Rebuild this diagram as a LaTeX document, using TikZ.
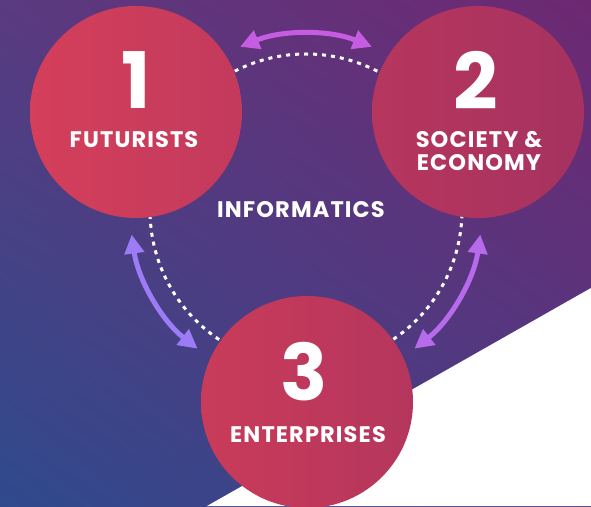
\documentclass[tikz,border=0pt]{standalone}
\usepackage{fontspec}
\setmainfont{Poppins}
\newfontfamily\tagfont{Poppins}[LetterSpace=5]
\usetikzlibrary{arrows.meta, positioning, calc, shadings}
\definecolor{bgtl}{HTML}{5A3A80}
\definecolor{bgtr}{HTML}{6E2872}
\definecolor{bgbl}{HTML}{2F4A8C}
\definecolor{bgbr}{HTML}{4F3A82}
\definecolor{redA}{HTML}{D43F5A}
\definecolor{redB}{HTML}{C33A5D}
\definecolor{redC}{HTML}{B6365E}
\definecolor{redD}{HTML}{A6325F}
\definecolor{redE}{HTML}{C93B5A}
\definecolor{redF}{HTML}{B5365D}
\definecolor{arrowtop}{HTML}{C65CE2}
\definecolor{arrowleft}{HTML}{9B7CF6}
\definecolor{arrowright}{HTML}{B86AEC}
\begin{document}
\begin{tikzpicture}[
        x=1pt, y=1pt,
        bubble/.style={circle, minimum size=212pt, inner sep=0pt},
        num/.style={text=white, inner sep=0pt, font=\fontsize{78}{78}\selectfont\bfseries},
        tag/.style={text=white, inner sep=0pt, align=center, font=\tagfont\fontsize{22.5}{23}\selectfont\bfseries},
        ring/.style={white, line width=3pt, dash pattern=on 4pt off 5pt},
        link/.style={line width=5pt, {Triangle[length=19pt, width=19pt]}-{Triangle[length=19pt, width=19pt]}}]
        \useasboundingbox (0,0) rectangle (591,506);
        % Background
        \shade[upper left=bgtl, upper right=bgtr, lower left=bgbl, lower right=bgbr] (0,0) rectangle (591,506);
        \fill[white] (591,218) -- (591,0) -- (207,0) -- cycle;
        % Ring
        \coordinate (ctr) at (306,296);
        \draw[ring] (ctr) circle[radius=156];
        \node[tag] (informatics) at ([xshift=-5pt]ctr) {INFORMATICS};
        % Arrows
        \coordinate (top1) at ($(ctr)+(112:176)$);
        \coordinate (left1) at ($(ctr)+(188:176)$);
        \coordinate (right1) at ($(ctr)+(308:176)$);
        \draw[link, arrowtop] (top1) arc[start angle=112, end angle=68, radius=176];
        \draw[link, arrowleft] (left1) arc[start angle=188, end angle=232, radius=176];
        \draw[link, arrowright] (right1) arc[start angle=308, end angle=352, radius=176];
        % Circles
        \node[bubble, left color=redA, right color=redB] (futurists) at (136,394) {};
        \node[bubble, left color=redC, right color=redD] (society) at (478,394) {};
        \node[bubble, left color=redE, right color=redF] (enterprises) at (307,104) {};
        % Texts
        \node[num] (n1) at ([yshift=32pt]futurists.center) {1};
        \node[tag] (t1) at ([xshift=-2pt, yshift=-28pt]futurists.center) {FUTURISTS};
        \node[num] (n2) at ([xshift=-2pt, yshift=32pt]society.center) {2};
        \node[tag] (t2) at ([xshift=1pt, yshift=-39pt]society.center) {SOCIETY \&\\ECONOMY};
        \node[num] (n3) at ([xshift=-3pt, yshift=30pt]enterprises.center) {3};
        \node[tag] (t3) at ([xshift=1pt, yshift=-33pt]enterprises.center) {ENTERPRISES};
\end{tikzpicture}
\end{document}
